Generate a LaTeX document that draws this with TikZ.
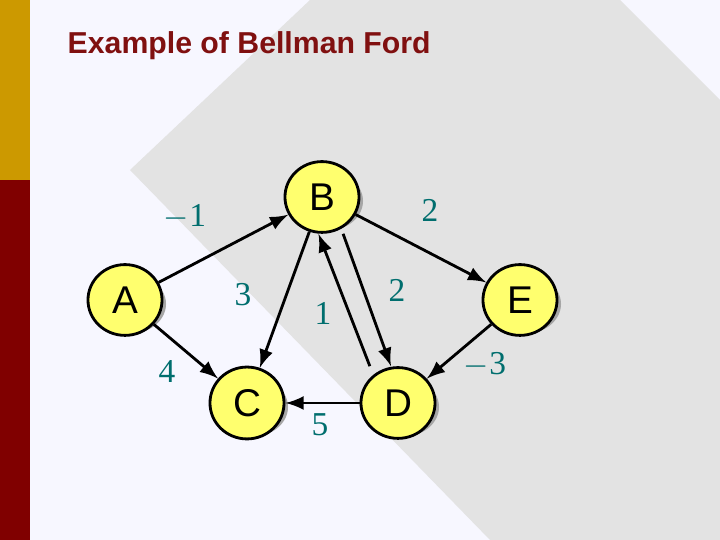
\documentclass[tikz,border=0pt]{standalone}
\usepackage{fontspec}
\setmainfont{Liberation Sans}
\newfontfamily\numfont{Liberation Serif}
\usetikzlibrary{shapes.geometric}
\definecolor{titlered}{RGB}{128,16,16}
\definecolor{barred}{RGB}{128,0,0}
\definecolor{bargold}{RGB}{204,153,0}
\definecolor{wtcol}{RGB}{0,110,110}
\definecolor{nodeyel}{RGB}{255,255,110}
\begin{document}
\begin{tikzpicture}
		[
		x=0.01cm, y=-0.01cm, >=latex,
		vertex/.style={ellipse, draw=black, thick, fill=nodeyel, minimum width=0.74cm, minimum height=0.6cm, font=\fontsize{11}{11}\selectfont},
		shadow/.style={ellipse, fill=gray!70, minimum width=0.74cm, minimum height=0.6cm},
		wt/.style={wtcol, font=\numfont\fontsize{9.5}{10}\selectfont},
		edge/.style={->, thick}
		]
		
		%Hintergrund
		\useasboundingbox (0,0) rectangle (720,540);
		\fill[blue!3!white] (0,0) rectangle (720,540);
		\fill[gray!22] (310,0) -- (620,0) -- (720,100) -- (720,540) -- (490,540) -- (130,170) -- cycle;
		\fill[bargold] (0,0) rectangle (30,180);
		\fill[barred] (0,180) rectangle (30,540);
		
		%Titel
		\node[titlered, anchor=west, inner sep=0pt, font=\bfseries\fontsize{8.6}{9}\selectfont] (title) at (67,46) {Example of Bellman Ford};
		
		%Schatten der Knoten
		\foreach \x/\y in {322/197,125/300,247/403,398/403,520/300}
		\node[shadow] at (\x+4,\y+4) {};
		
		%Knoten
		\node[vertex] (B) at (322,197) {B};
		\node[vertex] (A) at (125,300) {A};
		\node[vertex] (C) at (247,403) {C};
		\node[vertex] (D) at (398,403) {D};
		\node[vertex] (E) at (520,300) {E};
		
		%Kanten
		\draw[edge] (A) -- (B);
		\draw[edge] (B) -- (E);
		\draw[edge] (A) -- (C);
		\draw[edge] (B) -- (C);
		\draw[edge] ([xshift=6pt]B.south) -- ([xshift=-2pt]D.north);
		\draw[edge] ([xshift=-8pt]D.north) -- ([xshift=-1pt]B.south);
		\draw[edge] (D) -- (C);
		\draw[edge] (E) -- (D);
		
		%Gewichte
		\node[wt] (wab) at (185,217) {$-$1};
		\node[wt] (wbe) at (430,210) {2};
		\node[wt] (wac) at (167,372) {4};
		\node[wt] (wbc) at (243,295) {3};
		\node[wt] (wbd) at (397,290) {2};
		\node[wt] (wdb) at (323,313) {1};
		\node[wt] (wdc) at (320,425) {5};
		\node[wt] (wed) at (485,365) {$-$3};
		
	\end{tikzpicture}
\end{document}
